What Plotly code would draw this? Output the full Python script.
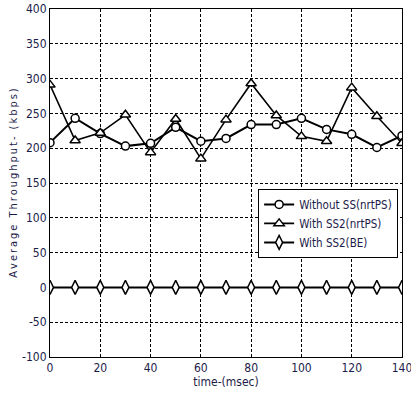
import plotly.graph_objects as go

time_ms = [0, 10, 20, 30, 40, 50, 60, 70, 80, 90, 100, 110, 120, 130, 140]
without_ss_nrtps = [208, 243, 221, 203, 207, 230, 210, 214, 234, 234, 243, 227, 220, 201, 218]
with_ss2_nrtps = [291, 211, 222, 248, 194, 242, 185, 241, 293, 247, 217, 210, 287, 246, 207]
with_ss2_be = [0] * 15

x_ticks = [0, 20, 40, 60, 80, 100, 120, 140]
y_ticks = [-100, -50, 0, 50, 100, 150, 200, 250, 300, 350, 400]
y_tick_text = [str(v) for v in y_ticks]

FONT = "DejaVu Sans Condensed, Liberation Sans Narrow, Arial Narrow, Arial"
TXT = "#1c1c4a"

y_title = "\u2009".join("Average Throughput- (kbps)")

fig = go.Figure()

def add(name, y, symbol, size, lw):
    fig.add_trace(go.Scatter(
        x=time_ms, y=y, name=name, mode="lines+markers",
        line=dict(color="black", width=lw),
        marker=dict(symbol=symbol, size=size, color="white",
                    line=dict(color="black", width=1.5)),
    ))

add("Without SS(nrtPS)", without_ss_nrtps, "circle", 8, 2)
add("With SS2(nrtPS)", with_ss2_nrtps, "triangle-up", 9, 1.6)
add("With SS2(BE)", with_ss2_be, "diamond-tall", 10, 2)

axis_common = dict(
    showline=True, linecolor="black", linewidth=1, mirror=True,
    showgrid=True, gridcolor="black", griddash="3px,2px", gridwidth=0.8,
    zeroline=False, ticks="", automargin=False, ticklabeloverflow="allow",
    tickfont=dict(family=FONT, size=12, color=TXT),
)

fig.update_layout(
    width=411, height=399,
    margin=dict(l=50, r=9, t=9, b=42),
    paper_bgcolor="white", plot_bgcolor="white",
    font=dict(family=FONT, color=TXT),
    xaxis=dict(range=[0, 140], tickvals=x_ticks,
               title=dict(text="time-(msec)", font=dict(family=FONT, size=12, color=TXT), standoff=2),
               **axis_common),
    yaxis=dict(range=[-100, 400], tickvals=y_ticks, ticktext=y_tick_text,
               title=dict(text=y_title,
                          font=dict(family=FONT, size=11, color=TXT), standoff=2),
               **axis_common),
    legend=dict(x=0.989, y=0.483, xanchor="right", yanchor="top",
                bgcolor="white", bordercolor="black", borderwidth=1,
                font=dict(family=FONT, size=11.5, color=TXT),
                tracegroupgap=0, itemwidth=30),
    showlegend=True,
)

fig.write_html("out.html", config={"displayModeBar": False},
               post_script="document.body.style.margin='0';")
